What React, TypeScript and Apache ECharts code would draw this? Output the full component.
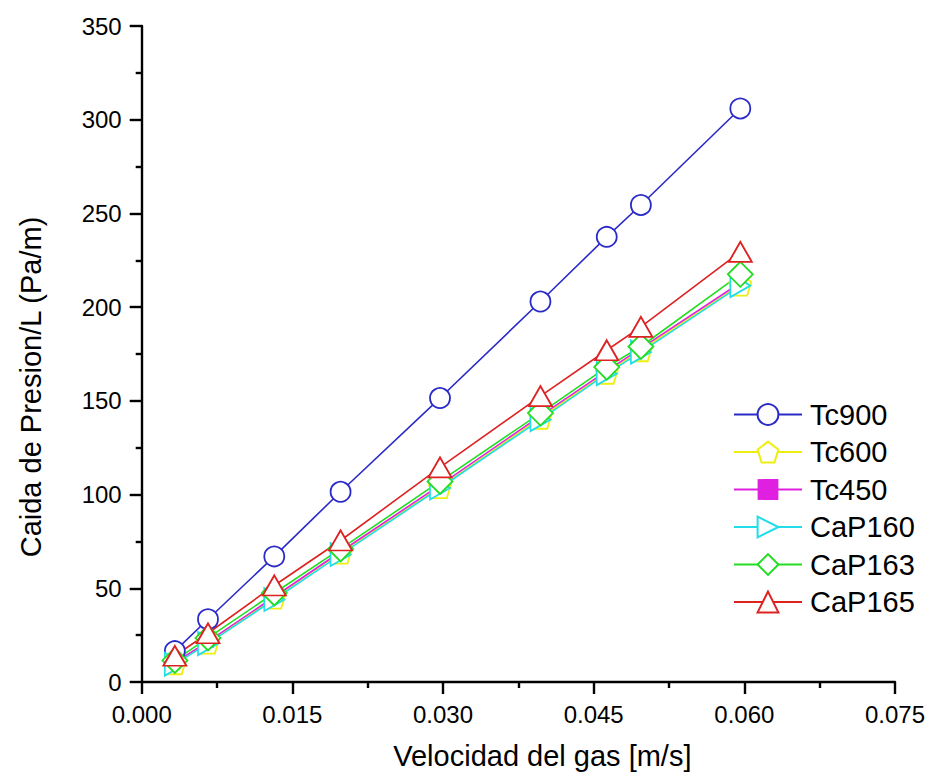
import React, { useEffect, useRef } from "react";
import * as echarts from "echarts";

// Gas velocity [m/s] at which each pressure drop was measured
const velocities = [0.0033, 0.0066, 0.0132, 0.0198, 0.0297, 0.0397, 0.0463, 0.0497, 0.0596];

// Pressure drop per unit length [Pa/m]
const tc900 = [16.5, 33.5, 67, 101.5, 151.5, 203, 237.5, 254.5, 306];
const tc600 = [10, 21, 45, 69, 104, 141, 165, 177, 212];
const tc450 = [10.5, 21.5, 45.5, 69.5, 105, 142, 166, 178, 213];
const cap160 = [9.5, 20.5, 44, 68, 103.5, 140, 164.5, 176, 211.5];
const cap163 = [11.5, 23.5, 47.5, 71, 107, 143.5, 168, 179, 217.5];
const cap165 = [14, 26, 51.5, 75.5, 114.5, 152.5, 177, 189.5, 229.5];

const seriesNames = ["Tc900", "Tc600", "Tc450", "CaP160", "CaP163", "CaP165"];

const xTicks = { min: 0, max: 0.075, interval: 0.015 };
const yTicks = { min: 0, max: 350, interval: 50 };

const FONT = "Arial, 'Liberation Sans', Helvetica, sans-serif";
const PENTAGON = "path://M0,-1 L0.951,-0.309 L0.588,0.809 L-0.588,0.809 L-0.951,-0.309 Z";

function pairs(ys: number[]) {
  return velocities.map((x, i) => [x, ys[i]]);
}

export default function App() {
  const ref = useRef<HTMLDivElement>(null);

  useEffect(() => {
    if (!ref.current) return;
    const chart = echarts.init(ref.current, undefined, { renderer: "svg" });

    const mk = (
      name: string,
      ys: number[],
      color: string,
      symbol: string,
      size: number | number[],
      opts: any = {}
    ) => ({
      name,
      type: "line",
      data: pairs(ys),
      symbol,
      symbolSize: size,
      showAllSymbol: true,
      lineStyle: { color, width: 1.6 },
      itemStyle: { color: opts.filled ? color : "#ffffff", borderColor: color, borderWidth: opts.filled ? 0 : 1.8 },
      emphasis: { disabled: true },
      ...opts.extra,
    });

    chart.setOption({
      animation: false,
      backgroundColor: "#ffffff",
      grid: {
        left: 141.7,
        right: 40,
        top: 26,
        bottom: 94,
        containLabel: false,
        outerBoundsMode: "none",
      },
      xAxis: {
        type: "value",
        min: xTicks.min,
        max: xTicks.max,
        interval: xTicks.interval,
        name: "Velocidad del gas [m/s]",
        nameLocation: "middle",
        nameGap: 59,
        nameTextStyle: { fontFamily: FONT, fontSize: 29, color: "#000", padding: [0, 0, 0, 48] },
        axisLine: { show: true, onZero: false, lineStyle: { color: "#000", width: 2.4 } },
        axisTick: { show: true, inside: false, length: 12, lineStyle: { color: "#000", width: 2.4 } },
        minorTick: { show: true, splitNumber: 2, length: 6, lineStyle: { color: "#000", width: 2.4 } },
        axisLabel: {
          margin: 20,
          fontFamily: FONT,
          fontSize: 24,
          color: "#000",
          formatter: (v: number) => v.toFixed(3),
        },
        splitLine: { show: false },
      },
      yAxis: {
        type: "value",
        min: yTicks.min,
        max: yTicks.max,
        interval: yTicks.interval,
        name: "Caida de Presion/L (Pa/m)",
        nameLocation: "middle",
        nameGap: 96,
        nameTextStyle: { fontFamily: FONT, fontSize: 29, color: "#000", padding: [0, 66, 0, 0] },
        axisLine: { show: true, onZero: false, lineStyle: { color: "#000", width: 2.4 } },
        axisTick: { show: true, inside: false, length: 12, lineStyle: { color: "#000", width: 2.4 } },
        minorTick: { show: true, splitNumber: 2, length: 6, lineStyle: { color: "#000", width: 2.4 } },
        axisLabel: { margin: 20, fontFamily: FONT, fontSize: 24, color: "#000" },
        splitLine: { show: false },
      },
      legend: {
        orient: "vertical",
        left: 728,
        top: 395,
        itemWidth: 68,
        itemHeight: 26,
        itemGap: 8.5,
        data: seriesNames,
        textStyle: { fontFamily: FONT, fontSize: 29, color: "#000", padding: [0, 0, 0, 3] },
        selectedMode: false,
      },
      series: [
        mk("Tc900", tc900, "#2a2ac8", "circle", 20),
        mk("Tc600", tc600, "#eeee10", PENTAGON, 22),
        mk("Tc450", tc450, "#e020e0", "rect", 12, { filled: true }),
        mk("CaP160", cap160, "#22dde8", "triangle", [23, 20], { extra: { symbolRotate: -90 } }),
        mk("CaP163", cap163, "#22dd22", "diamond", 25),
        mk("CaP165", cap165, "#dd2222", "triangle", [23, 20]),
      ],
    });

    return () => chart.dispose();
  }, []);

  return (
    <div
      ref={ref}
      style={{ position: "fixed", left: 0, top: 0, width: 935, height: 776, background: "#fff" }}
    />
  );
}
